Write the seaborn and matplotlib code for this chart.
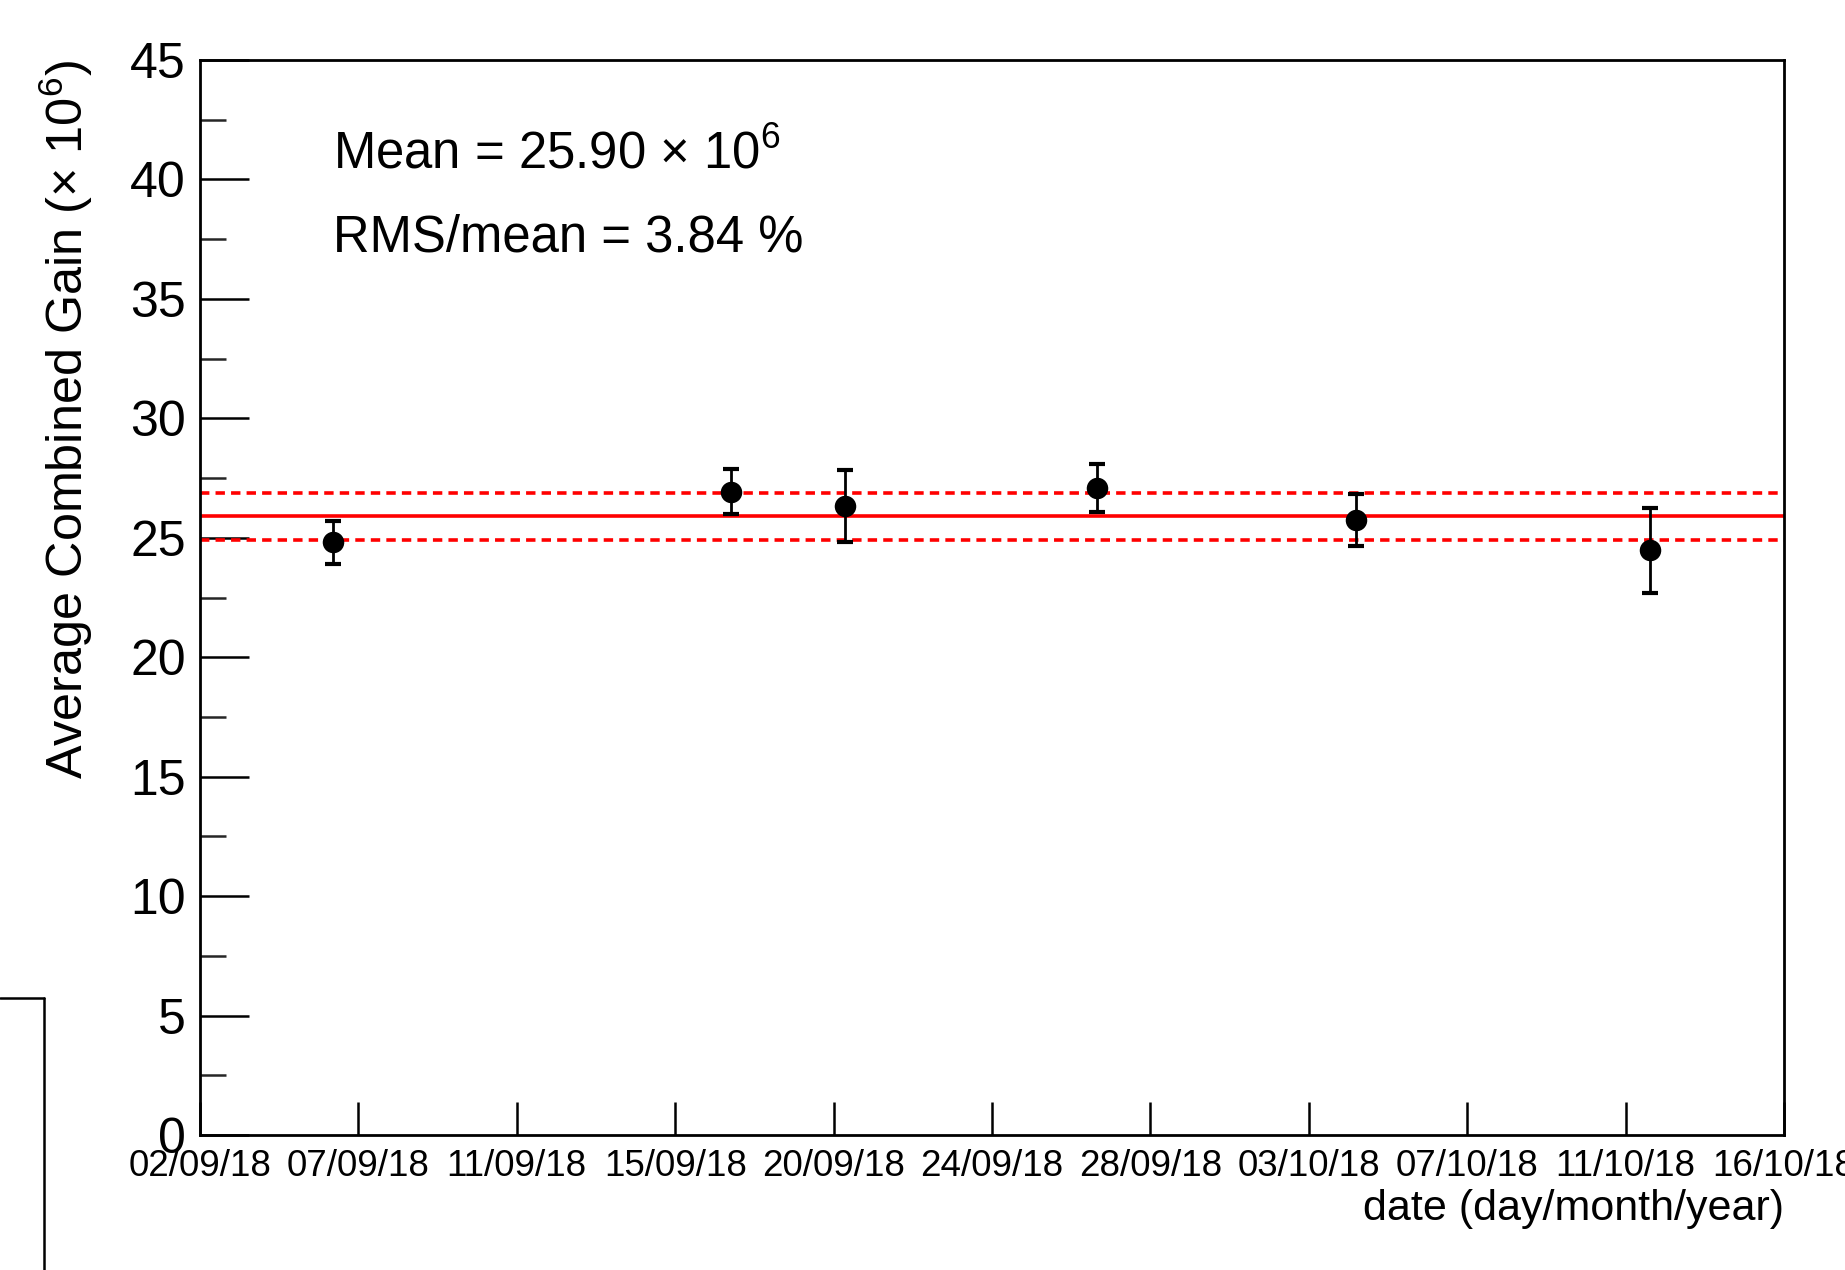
import matplotlib
matplotlib.use("Agg")
import matplotlib.pyplot as plt
from matplotlib.lines import Line2D
from matplotlib.ticker import MultipleLocator, FixedLocator
import seaborn as sns
import pandas as pd

# ---- data ----
days = [3.69, 14.74, 17.91, 24.91, 32.10, 40.27]          # days since 02/09/18
gain = [24.81, 26.93, 26.34, 27.08, 25.75, 24.47]         # x 10^6
gain_err = [0.90, 0.95, 1.50, 1.00, 1.08, 1.77]
mean_gain = 25.90
rms_over_mean = 3.84
tick_days = [0, 4.4, 8.8, 13.2, 17.6, 22.0, 26.4, 30.8, 35.2, 39.6, 44.0]
tick_labels = ["02/09/18", "07/09/18", "11/09/18", "15/09/18", "20/09/18",
               "24/09/18", "28/09/18", "03/10/18", "07/10/18", "11/10/18",
               "16/10/18"]

df = pd.DataFrame({"day": days, "gain": gain, "err": gain_err})

sns.set_theme(style="ticks")
plt.rcParams["font.family"] = ["Liberation Sans", "DejaVu Sans"]
plt.rcParams["mathtext.fontset"] = "custom"
plt.rcParams["mathtext.rm"] = "Liberation Sans"
plt.rcParams["mathtext.it"] = "Liberation Sans:italic"
plt.rcParams["mathtext.bf"] = "Liberation Sans:bold"
plt.rcParams["text.color"] = "black"
plt.rcParams["axes.labelcolor"] = "black"

fig = plt.figure(figsize=(18.45, 12.70), dpi=100)
ax = fig.add_axes([200/1845, 1-1135/1270, (1784-200)/1845, (1135-60)/1270])

rms = mean_gain * rms_over_mean / 100.0
ax.axhline(mean_gain, color="#ff0000", lw=2.6, zorder=1)
ax.axhline(mean_gain + rms, color="#ff0000", lw=2.6, ls=(0, (2.6, 1.7)), zorder=1)
ax.axhline(mean_gain - rms, color="#ff0000", lw=2.6, ls=(0, (2.6, 1.7)), zorder=1)

ax.errorbar(df["day"], df["gain"], yerr=df["err"], fmt="none", ecolor="black",
            elinewidth=2.0, capsize=6, capthick=3, zorder=2)
sns.scatterplot(data=df, x="day", y="gain", ax=ax, color="black", s=240,
                edgecolor="black", linewidth=0, zorder=3, legend=False)

ax.set_xlim(0, 44)
ax.set_ylim(0, 45)
ax.xaxis.set_major_locator(FixedLocator(tick_days))
ax.set_xticklabels(tick_labels)
ax.yaxis.set_major_locator(MultipleLocator(5))
ax.yaxis.set_minor_locator(MultipleLocator(2.5))

for s in ax.spines.values():
    s.set_linewidth(2.0)
    s.set_color("black")

ax.tick_params(axis="y", which="major", direction="in", length=35, width=1.8,
               labelsize=36, pad=10, colors="black")
ax.tick_params(axis="y", which="minor", direction="in", length=19, width=1.8)
ax.tick_params(axis="x", which="major", direction="in", length=24, width=1.8,
               labelsize=26.5, pad=10, colors="black")

ax.set_xlabel("date (day/month/year)", fontsize=31, loc="right")
ax.xaxis.set_label_coords(1.0, -0.05)
ax.xaxis.label.set_va("top")
ax.set_ylabel("Average Combined Gain (× 10$^{6}$)", fontsize=36.3, loc="top")
ax.yaxis.set_label_coords(-0.066, 1.0)

ax.text(333/1845, 1-168/1270, "Mean = %.2f × 10$^{6}$" % mean_gain,
        transform=fig.transFigure, fontsize=36.6, ha="left", va="baseline")
ax.text(333/1845, 1-251/1270, "RMS/mean = %.2f %%" % rms_over_mean,
        transform=fig.transFigure, fontsize=36.6, ha="left", va="baseline")

# border of a neighbouring pad visible in the bottom-left corner
fig.add_artist(Line2D([43.5/1845, 43.5/1845], [0, 1-998/1270],
                      transform=fig.transFigure, color="black", lw=1.8))
fig.add_artist(Line2D([0, 43.5/1845], [1-998/1270, 1-998/1270],
                      transform=fig.transFigure, color="black", lw=1.8))

fig.savefig("out.png", dpi=100, facecolor="white")
